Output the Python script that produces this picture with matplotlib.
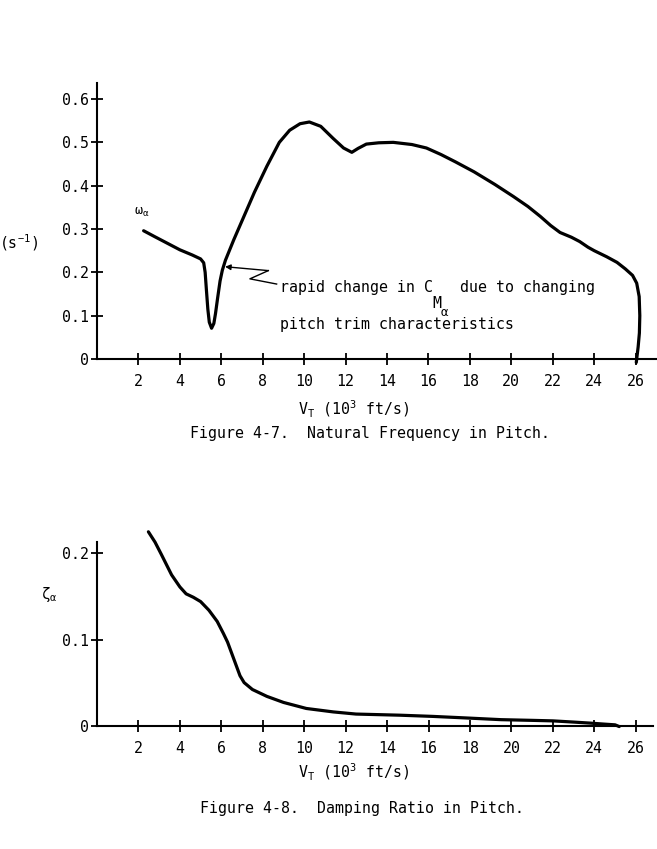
import matplotlib
matplotlib.use('Agg')
import matplotlib.pyplot as plt
import numpy as np

plt.rcParams['font.family'] = ['DejaVu Sans Mono', 'DejaVu Sans']
plt.rcParams['font.size'] = 10.7
plt.rcParams['mathtext.default'] = 'regular'

# Figure 4-7: natural frequency in pitch (x in 10^3 ft/s, y in 1/s)
vt_freq = [2.25, 2.8, 3.4, 4.0, 4.6, 5.0, 5.15, 5.22, 5.28, 5.35, 5.42, 5.53,
           5.64, 5.72, 5.82, 5.94, 6.05, 6.2, 6.6, 7.1, 7.6, 8.2, 8.8, 9.3,
           9.8, 10.25, 10.8, 11.4, 11.9, 12.3, 12.6, 13.0, 13.6, 14.3, 15.2,
           15.9, 16.6, 17.3, 18.2, 19.2, 20.1, 20.8, 21.4, 21.9, 22.35, 22.9,
           23.3, 23.7, 24.0, 24.6, 25.1, 25.5, 25.85, 26.05, 26.17, 26.2,
           26.18, 26.12, 26.03]
omega = [0.296, 0.282, 0.267, 0.252, 0.240, 0.231, 0.222, 0.200, 0.160, 0.115,
         0.085, 0.071, 0.082, 0.105, 0.140, 0.180, 0.205, 0.228, 0.275, 0.330,
         0.385, 0.445, 0.500, 0.528, 0.543, 0.547, 0.537, 0.509, 0.487, 0.477,
         0.486, 0.496, 0.499, 0.500, 0.495, 0.487, 0.472, 0.455, 0.432, 0.403,
         0.375, 0.352, 0.329, 0.308, 0.292, 0.281, 0.271, 0.258, 0.250, 0.236,
         0.223, 0.208, 0.193, 0.175, 0.144, 0.100, 0.060, 0.028, -0.008]

# Figure 4-8: damping ratio in pitch
vt_damp = [2.48, 2.8, 3.1, 3.6, 4.0, 4.3, 4.65, 5.0, 5.4, 5.8, 6.1, 6.3, 6.5,
           6.7, 6.9, 7.1, 7.5, 8.2, 9.0, 10.1, 11.4, 12.5, 14.6, 16.2, 17.8,
           19.5, 21.0, 22.0, 23.0, 23.8, 24.5, 25.0, 25.2]
zeta = [0.225, 0.213, 0.199, 0.175, 0.161, 0.153, 0.149, 0.144, 0.134, 0.121,
        0.107, 0.097, 0.084, 0.071, 0.058, 0.050, 0.042, 0.034, 0.027, 0.020,
        0.016, 0.0135, 0.0122, 0.0108, 0.0090, 0.0070, 0.0062, 0.0056, 0.0042,
        0.0030, 0.0018, 0.0010, -0.001]

x_ticks = [2, 4, 6, 8, 10, 12, 14, 16, 18, 20, 22, 24, 26]
freq_ticks = [0, 0.1, 0.2, 0.3, 0.4, 0.5, 0.6]
freq_labels = ['0', '0.1', '0.2', '0.3', '0.4', '0.5', '0.6']
damp_ticks = [0, 0.1, 0.2]
damp_labels = ['0', '0.1', '0.2']

W, H = 657, 849
fig = plt.figure(figsize=(W / 100, H / 100), dpi=100)


def px(x, y):
    return x / W, 1 - y / H


def style_axes(ax):
    for s in ['top', 'right']:
        ax.spines[s].set_visible(False)
    for s in ['left', 'bottom']:
        ax.spines[s].set_linewidth(1.5)
    ax.tick_params(direction='inout', length=8, width=1.3, color='black')
    ax.tick_params(axis='y', pad=2)
    ax.tick_params(axis='x', pad=7)
    ax.set_xticks(x_ticks)
    ax.set_xticklabels([str(t) for t in x_ticks])


ax1 = fig.add_axes([97 / W, 490 / H, 560 / W, 276 / H])
ax1.plot(vt_freq, omega, color='black', lw=2.3, clip_on=False,
         solid_capstyle='round', solid_joinstyle='round')
ax1.set_xlim(0, 27.03)
ax1.set_ylim(0, 0.637)
style_axes(ax1)
ax1.set_yticks(freq_ticks)
ax1.set_yticklabels(freq_labels)

# annotation: arrow + zigzag leader
ax1.annotate('', xy=(6.18, 0.213), xytext=(8.27, 0.204),
             arrowprops=dict(arrowstyle='-|>', color='black', lw=1,
                             mutation_scale=8, shrinkA=0, shrinkB=0))
ax1.plot([8.27, 7.38, 8.67], [0.204, 0.185, 0.173], color='black', lw=1)
ax1.text(8.83, 0.1655, 'rapid change in C   due to changing', va='center')
ax1.text(16.2, 0.127, 'M', va='center')
ax1.text(16.6, 0.108, 'α', va='center', fontsize=9)
ax1.text(8.83, 0.0785, 'pitch trim characteristics', va='center')

ax2 = fig.add_axes([97 / W, 123.3 / H, 556 / W, 184 / H])
ax2.plot(vt_damp, zeta, color='black', lw=2.3, clip_on=False,
         solid_capstyle='round', solid_joinstyle='round')
ax2.set_xlim(0, 26.83)
ax2.set_ylim(0, 0.2135)
style_axes(ax2)
ax2.set_yticks(damp_ticks)
ax2.set_yticklabels(damp_labels)

# axis labels and captions
fig.text(*px(298, 415), 'V$_T$ (10$^3$ ft/s)', ha='left', va='baseline')
fig.text(*px(190, 438), 'Figure 4-7.  Natural Frequency in Pitch.',
         ha='left', va='baseline')
fig.text(*px(142, 212), 'ω$_α$', ha='center', va='center', fontsize=9.5)
fig.text(*px(38, 243), '(s$^{-1}$)', ha='right', va='center')

fig.text(*px(298, 778), 'V$_T$ (10$^3$ ft/s)', ha='left', va='baseline')
fig.text(*px(200, 813), 'Figure 4-8.  Damping Ratio in Pitch.',
         ha='left', va='baseline')
fig.text(*px(41, 595), 'ζ$_α$', ha='left', va='center', fontsize=10.5)

fig.savefig('out.png', dpi=100)
